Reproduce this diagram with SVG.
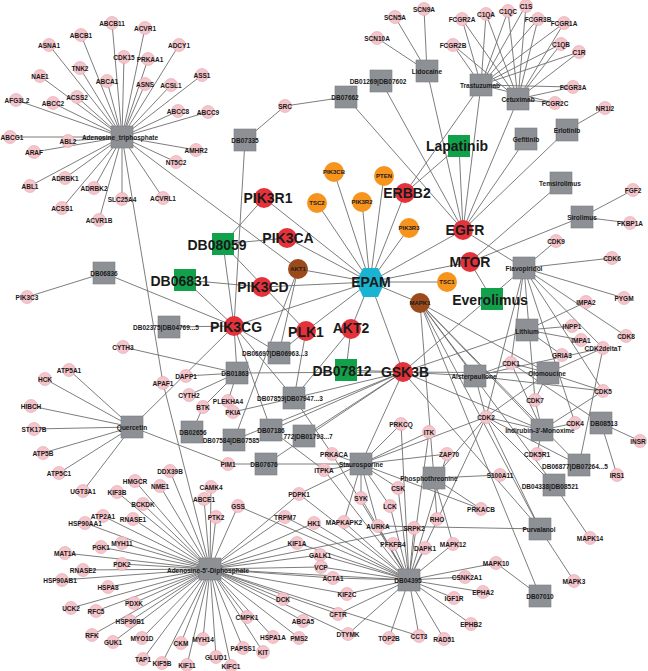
<svg xmlns="http://www.w3.org/2000/svg" width="648" height="671" viewBox="0 0 648 671">
<style>
.e{stroke:#6e6e6e;stroke-width:0.9;fill:none}
.g{fill:#f5c5cb;stroke:#e0a3ab;stroke-width:0.6}
.s{fill:#8d9095;stroke:#7a7d82;stroke-width:0.6}
.gr{fill:#12a14b}
.r{fill:#e4323b}
.o{fill:#f7941d}
.b{fill:#9b4a1b}
.h{fill:#1ab4d3}
text{font-family:"Liberation Sans",Arial,sans-serif;font-weight:bold;text-anchor:middle;dominant-baseline:central;fill:#1a1a1a}
.t{font-size:6.5px}
.m{font-size:6px}
.L{font-size:14px}
</style>
<rect width="648" height="671" fill="#fff"/>
<g id="edges">
<path class="e" d="M122 137L112 23M122 137L145 28M122 137L81 35M122 137L49 45M122 137L179 45M122 137L124 57M122 137L148 59M122 137L80 68M122 137L40 76M122 137L202 75M122 137L107 81M122 137L145 84M122 137L171 85M122 137L16 100M122 137L77 97M122 137L53 103M122 137L178 111M122 137L208 112M122 137L10 137M122 137L68 141M122 137L34 152M122 137L196 150M122 137L176 162M122 137L30 186M122 137L65 178M122 137L94 188M122 137L122 199M122 137L163 198M122 137L62 208M122 137L99 220M122 137L298 269M122 137L163 383M163 383L210 569"/>
<path class="e" d="M245 140L285 106M285 106L346 97M245 140L234 326M346 97L463 230M381 81L463 230M427 71L395 17M427 71L424 9M427 71L377 38M427 71L463 230"/>
<path class="e" d="M481 85L462 19M481 85L486 14M481 85L508 11M481 85L526 5M481 85L538 19M481 85L564 23M481 85L453 45M481 85L561 44M481 85L579 52M481 85L573 87M481 85L555 103M481 85L405 193M481 85L463 230"/>
<path class="e" d="M518 99L462 19M518 99L486 14M518 99L508 11M518 99L526 5M518 99L538 19M518 99L564 23M518 99L453 45M518 99L561 44M518 99L579 52M518 99L573 87M518 99L555 103M518 99L463 230"/>
<path class="e" d="M526 139L463 230M567 130L463 230M567 130L605 108M459 146L463 230M459 146L405 193M561 183L470 262M582 217L470 262M582 217L633 190M582 217L630 223M492 299L470 262M463 230L524 268"/>
<path class="e" d="M370 282L334 172M370 282L384 176M370 282L405 193M370 282L317 203M370 282L362 202M370 282L409 228M370 282L264 198M370 282L287 238M370 282L298 269M370 282L262 287M370 282L420 303M370 282L234 326M370 282L306 331M370 282L351 329M370 282L463 230M370 282L470 262M370 282L447 282M370 282L403 372"/>
<path class="e" d="M223 244L264 198M223 244L287 238M223 244L306 331M223 244L234 326M185 280L262 287M185 280L234 326M104 273L27 297M104 273L234 326M169 327L234 326M234 326L237 373M234 326L279 353M234 326L271 430M234 326L294 398"/>
<path class="e" d="M132 427L69 370M132 427L45 379M132 427L31 406M132 427L34 429M132 427L43 453M132 427L59 473M132 427L83 491M132 427L234 326M132 427L228 464"/>
<path class="e" d="M237 373L123 347M237 373L186 376M237 373L189 395M237 373L203 407M237 373L228 401M192 432L203 407M298 269L279 353M298 269L234 440M306 331L279 353M306 331L294 398M351 329L346 370M351 329L294 398M294 398L233 412M294 398L332 454M271 430L324 470M228 464L361 464"/>
<path class="e" d="M403 372L346 370M403 372L294 398M403 372L271 430M403 372L304 436M403 372L266 464M403 372L234 440M403 372L361 464M403 372L475 376M403 372L527 330M403 372L542 430M403 372L548 373M403 372L524 268M403 372L540 529M403 372L237 373"/>
<path class="e" d="M420 303L475 376M420 303L548 373M420 303L542 430M420 303L540 529M420 303L554 485M420 303L540 596M420 303L579 465M420 303L434 478"/>
<path class="e" d="M361 464L401 424M361 464L429 432M361 464L447 454M361 464L332 454M361 464L324 470M361 464L398 488M361 464L361 498M361 464L390 506M361 464L299 494M361 464L344 522M361 464L378 526M361 464L486 417M361 464L481 509M434 478L500 475M434 478L481 509M434 478L437 519M434 478L453 544M434 478L486 417"/>
<path class="e" d="M524 268L556 241M524 268L612 258M524 268L624 298M524 268L626 336M524 268L603 348M524 268L511 363M524 268L535 400M524 268L486 417M524 268L575 423M524 268L603 391M527 330L586 302M527 330L572 326M527 330L581 340M527 330L562 355"/>
<path class="e" d="M475 376L511 363M475 376L486 417M475 376L603 391M475 376L603 348M548 373L511 363M548 373L486 417M548 373L603 391M548 373L535 400M548 373L603 348M542 430L511 363M542 430L486 417M542 430L603 391M542 430L537 454M542 430L575 423M542 430L535 400M601 423L640 441M601 423L617 475M601 423L511 363M579 465L603 348M579 465L486 417M554 485L486 417M554 485L590 538M540 529L486 417M540 529L574 581M540 529L378 526M540 596L496 563"/>
<path class="e" d="M409 580L414 528M409 580L393 544M409 580L425 548M409 580L453 544M409 580L496 563M409 580L465 577M409 580L483 592M409 580L454 598M409 580L471 624M409 580L444 639M409 580L419 636M409 580L389 638M409 580L348 634M409 580L338 614M409 580L347 594M409 580L333 578M409 580L321 567M409 580L320 555M409 580L297 543M409 580L314 523M409 580L285 517M409 580L238 506M409 580L378 526M409 580L344 522M409 580L390 506M409 580L361 498M409 580L398 488M409 580L299 494M409 580L324 470M409 580L332 454M409 580L447 454M409 580L429 432M409 580L401 424M409 580L486 417"/>
<path class="e" d="M210 569L143 504M210 569L103 516M210 569L133 519M210 569L85 523M210 569L101 547M210 569L122 543M210 569L65 553M210 569L122 564M210 569L83 570M210 569L62 580M210 569L108 587M210 569L71 608M210 569L96 611M210 569L134 603M210 569L130 621M210 569L92 635M210 569L113 642M210 569L142 638M210 569L181 643M210 569L203 639M210 569L143 659M210 569L162 663M210 569L187 665M210 569L216 657M210 569L231 666M210 569L243 648M210 569L263 652M210 569L273 637M210 569L299 638M210 569L247 617M210 569L283 599M210 569L303 621M210 569L216 517M210 569L211 487M210 569L204 499M210 569L170 471M210 569L160 486M210 569L135 481M210 569L117 492M210 569L238 506M210 569L285 517M210 569L314 523M210 569L297 543M210 569L320 555M210 569L321 567M210 569L333 578M210 569L347 594M210 569L338 614M210 569L348 634M210 569L419 636M210 569L409 580M210 569L299 494M210 569L414 528"/>
</g>
<g id="n-Adenosine_triphosphate"><rect class="s" x="111" y="126" width="22" height="22"/><text class="t" x="120" y="137">Adenosine_triphosphate</text></g>
<g id="n-DB07335"><rect class="s" x="234" y="129" width="22" height="22"/><text class="t" x="245" y="140">DB07335</text></g>
<g id="n-DB07662"><rect class="s" x="335" y="86" width="22" height="22"/><text class="t" x="345" y="97">DB07662</text></g>
<g id="n-DB01269-DB07602"><rect class="s" x="370" y="70" width="22" height="22"/><text class="t" x="378" y="81">DB01269|DB07602</text></g>
<g id="n-Lidocaine"><rect class="s" x="416" y="60" width="22" height="22"/><text class="t" x="427" y="71">Lidocaine</text></g>
<g id="n-Trastuzumab"><rect class="s" x="470" y="74" width="22" height="22"/><text class="t" x="480" y="85">Trastuzumab</text></g>
<g id="n-Cetuximab"><rect class="s" x="507" y="88" width="22" height="22"/><text class="t" x="518" y="99">Cetuximab</text></g>
<g id="n-Gefitinib"><rect class="s" x="515" y="128" width="22" height="22"/><text class="t" x="526" y="139">Gefitinib</text></g>
<g id="n-Erlotinib"><rect class="s" x="556" y="119" width="22" height="22"/><text class="t" x="567" y="130">Erlotinib</text></g>
<g id="n-Temsirolimus"><rect class="s" x="550" y="172" width="22" height="22"/><text class="t" x="560" y="183">Temsirolimus</text></g>
<g id="n-Sirolimus"><rect class="s" x="571" y="206" width="22" height="22"/><text class="t" x="582" y="217">Sirolimus</text></g>
<g id="n-Flavopiridol"><rect class="s" x="513" y="257" width="22" height="22"/><text class="t" x="524" y="268">Flavopiridol</text></g>
<g id="n-Lithium"><rect class="s" x="516" y="319" width="22" height="22"/><text class="t" x="527" y="331">Lithium</text></g>
<g id="n-Olomoucine"><rect class="s" x="537" y="362" width="22" height="22"/><text class="t" x="547" y="373">Olomoucine</text></g>
<g id="n-Alsterpaullone"><rect class="s" x="464" y="365" width="22" height="22"/><text class="t" x="474" y="376">Alsterpaullone</text></g>
<g id="n-DB08513"><rect class="s" x="590" y="412" width="22" height="22"/><text class="t" x="604" y="423">DB08513</text></g>
<g id="n-Indirubin"><rect class="s" x="531" y="419" width="22" height="22"/><text class="t" x="540" y="430">Indirubin-3'-Monoxime</text></g>
<g id="n-DB06877"><rect class="s" x="568" y="454" width="22" height="22"/><text class="t" x="575" y="466">DB06877|DB07264...5</text></g>
<g id="n-DB04338"><rect class="s" x="543" y="474" width="22" height="22"/><text class="t" x="550" y="486">DB04338|DB08521</text></g>
<g id="n-Purvalanol"><rect class="s" x="529" y="518" width="22" height="22"/><text class="t" x="539" y="529">Purvalanol</text></g>
<g id="n-DB07010"><rect class="s" x="529" y="585" width="22" height="22"/><text class="t" x="540" y="596">DB07010</text></g>
<g id="n-Phosphothreonine"><rect class="s" x="423" y="467" width="22" height="22"/><text class="t" x="429" y="478">Phosphothreonine</text></g>
<g id="n-DB04395"><rect class="s" x="398" y="569" width="22" height="22"/><text class="t" x="408" y="580">DB04395</text></g>
<g id="n-Adenosine-5-Diphosphate"><rect class="s" x="199" y="558" width="22" height="22"/><text class="t" x="208" y="570">Adenosine-5'-Diphosphate</text></g>
<g id="n-Staurosporine"><rect class="s" x="350" y="453" width="22" height="22"/><text class="t" x="361" y="464">Staurosporine</text></g>
<g id="n-DB07676"><rect class="s" x="255" y="453" width="22" height="22"/><text class="t" x="264" y="464">DB07676</text></g>
<g id="n-DB02656"><rect class="s" x="181" y="421" width="22" height="22"/><text class="t" x="193" y="432">DB02656</text></g>
<g id="n-DB07584-DB07585"><rect class="s" x="223" y="429" width="22" height="22"/><text class="t" x="231" y="440">DB07584|DB07585</text></g>
<g id="n-DB07186"><rect class="s" x="260" y="419" width="22" height="22"/><text class="t" x="271" y="430">DB07186</text></g>
<g id="n-772-DB01793"><rect class="s" x="293" y="425" width="22" height="22"/><text class="t" x="308" y="436">772|DB01793...7</text></g>
<g id="n-DB07859"><rect class="s" x="283" y="387" width="22" height="22"/><text class="t" x="290" y="398">DB07859|DB07947...3</text></g>
<g id="n-DB01863"><rect class="s" x="226" y="362" width="22" height="22"/><text class="t" x="235" y="373">DB01863</text></g>
<g id="n-DB06697"><rect class="s" x="268" y="342" width="22" height="22"/><text class="t" x="275" y="353">DB06697|DB06963...3</text></g>
<g id="n-DB02375"><rect class="s" x="158" y="316" width="22" height="22"/><text class="t" x="166" y="327">DB02375|DB04769...5</text></g>
<g id="n-DB06836"><rect class="s" x="93" y="262" width="22" height="22"/><text class="t" x="104" y="273">DB06836</text></g>
<g id="n-Quercetin"><rect class="s" x="121" y="416" width="22" height="22"/><text class="t" x="132" y="427">Quercetin</text></g>
<g id="n-DB08059"><rect class="gr" x="212" y="233" width="22" height="22"/><text class="L" x="217" y="245">DB08059</text></g>
<g id="n-DB06831"><rect class="gr" x="174" y="269" width="22" height="22"/><text class="L" x="180" y="281">DB06831</text></g>
<g id="n-DB07812"><rect class="gr" x="335" y="359" width="22" height="22"/><text class="L" x="342" y="371">DB07812</text></g>
<g id="n-Lapatinib"><rect class="gr" x="448" y="135" width="22" height="22"/><text class="L" x="457" y="146">Lapatinib</text></g>
<g id="n-Everolimus"><rect class="gr" x="481" y="288" width="22" height="22"/><text class="L" x="490" y="300">Everolimus</text></g>
<g id="n-EPAM"><polygon class="h" points="363,268 378,268 385,282 378,297 363,297 356,282"/><text class="L" x="371" y="282">EPAM</text></g>
<g id="n-PIK3CB"><circle class="o" cx="334" cy="172" r="10"/><text class="m" x="334" y="172">PIK3CB</text></g>
<g id="n-PTEN"><circle class="o" cx="384" cy="176" r="10"/><text class="m" x="384" y="176">PTEN</text></g>
<g id="n-TSC2"><circle class="o" cx="317" cy="203" r="10"/><text class="m" x="317" y="203">TSC2</text></g>
<g id="n-PIK3R2"><circle class="o" cx="362" cy="202" r="10"/><text class="m" x="362" y="202">PIK3R2</text></g>
<g id="n-PIK3R3"><circle class="o" cx="409" cy="228" r="10"/><text class="m" x="409" y="228">PIK3R3</text></g>
<g id="n-TSC1"><circle class="o" cx="447" cy="282" r="10"/><text class="m" x="447" y="282">TSC1</text></g>
<g id="n-AKT1"><circle class="b" cx="298" cy="269" r="10"/><text class="m" x="298" y="269">AKT1</text></g>
<g id="n-MAPK1"><circle class="b" cx="420" cy="303" r="10"/><text class="m" x="420" y="303">MAPK1</text></g>
<g id="n-PIK3R1"><circle class="r" cx="264" cy="198" r="10"/><text class="L" x="268" y="198">PIK3R1</text></g>
<g id="n-PIK3CA"><circle class="r" cx="287" cy="238" r="10"/><text class="L" x="288" y="238">PIK3CA</text></g>
<g id="n-PIK3CD"><circle class="r" cx="262" cy="287" r="10"/><text class="L" x="263" y="287">PIK3CD</text></g>
<g id="n-PIK3CG"><circle class="r" cx="234" cy="326" r="10"/><text class="L" x="236" y="327">PIK3CG</text></g>
<g id="n-PLK1"><circle class="r" cx="306" cy="331" r="10"/><text class="L" x="306" y="332">PLK1</text></g>
<g id="n-AKT2"><circle class="r" cx="351" cy="329" r="10"/><text class="L" x="351" y="328">AKT2</text></g>
<g id="n-ERBB2"><circle class="r" cx="405" cy="193" r="10"/><text class="L" x="407" y="193">ERBB2</text></g>
<g id="n-EGFR"><circle class="r" cx="463" cy="230" r="10"/><text class="L" x="465" y="230">EGFR</text></g>
<g id="n-MTOR"><circle class="r" cx="470" cy="262" r="10"/><text class="L" x="470" y="262">MTOR</text></g>
<g id="n-GSK3B"><circle class="r" cx="403" cy="372" r="10"/><text class="L" x="405" y="372">GSK3B</text></g>
<g id="n-ABCB11"><circle class="g" cx="112" cy="23" r="6.5"/><text class="t" x="112" y="23">ABCB11</text></g>
<g id="n-ACVR1"><circle class="g" cx="145" cy="28" r="6.5"/><text class="t" x="145" y="28">ACVR1</text></g>
<g id="n-ABCB1"><circle class="g" cx="81" cy="35" r="6.5"/><text class="t" x="81" y="35">ABCB1</text></g>
<g id="n-ASNA1"><circle class="g" cx="49" cy="45" r="6.5"/><text class="t" x="49" y="45">ASNA1</text></g>
<g id="n-ADCY1"><circle class="g" cx="179" cy="45" r="6.5"/><text class="t" x="179" y="45">ADCY1</text></g>
<g id="n-CDK15"><circle class="g" cx="124" cy="57" r="6.5"/><text class="t" x="124" y="57">CDK15</text></g>
<g id="n-PRKAA1"><circle class="g" cx="148" cy="59" r="6.5"/><text class="t" x="150" y="59">PRKAA1</text></g>
<g id="n-TNK2"><circle class="g" cx="80" cy="68" r="6.5"/><text class="t" x="80" y="68">TNK2</text></g>
<g id="n-NAE1"><circle class="g" cx="40" cy="76" r="6.5"/><text class="t" x="40" y="76">NAE1</text></g>
<g id="n-ASS1"><circle class="g" cx="202" cy="75" r="6.5"/><text class="t" x="202" y="75">ASS1</text></g>
<g id="n-ABCA1"><circle class="g" cx="107" cy="81" r="6.5"/><text class="t" x="107" y="81">ABCA1</text></g>
<g id="n-ASNS"><circle class="g" cx="145" cy="84" r="6.5"/><text class="t" x="145" y="84">ASNS</text></g>
<g id="n-ACSL1"><circle class="g" cx="171" cy="85" r="6.5"/><text class="t" x="171" y="85">ACSL1</text></g>
<g id="n-AFG3L2"><circle class="g" cx="16" cy="100" r="6.5"/><text class="t" x="17" y="100">AFG3L2</text></g>
<g id="n-ACSS2"><circle class="g" cx="77" cy="97" r="6.5"/><text class="t" x="77" y="97">ACSS2</text></g>
<g id="n-ABCC2"><circle class="g" cx="53" cy="103" r="6.5"/><text class="t" x="53" y="103">ABCC2</text></g>
<g id="n-ABCC8"><circle class="g" cx="178" cy="111" r="6.5"/><text class="t" x="178" y="111">ABCC8</text></g>
<g id="n-ABCC9"><circle class="g" cx="208" cy="112" r="6.5"/><text class="t" x="208" y="112">ABCC9</text></g>
<g id="n-ABCG1"><circle class="g" cx="10" cy="137" r="6.5"/><text class="t" x="12" y="137">ABCG1</text></g>
<g id="n-ABL2"><circle class="g" cx="68" cy="141" r="6.5"/><text class="t" x="68" y="141">ABL2</text></g>
<g id="n-ARAF"><circle class="g" cx="34" cy="152" r="6.5"/><text class="t" x="34" y="152">ARAF</text></g>
<g id="n-AMHR2"><circle class="g" cx="196" cy="150" r="6.5"/><text class="t" x="196" y="150">AMHR2</text></g>
<g id="n-NT5C2"><circle class="g" cx="176" cy="162" r="6.5"/><text class="t" x="176" y="162">NT5C2</text></g>
<g id="n-ABL1"><circle class="g" cx="30" cy="186" r="6.5"/><text class="t" x="30" y="186">ABL1</text></g>
<g id="n-ADRBK1"><circle class="g" cx="65" cy="178" r="6.5"/><text class="t" x="65" y="178">ADRBK1</text></g>
<g id="n-ADRBK2"><circle class="g" cx="94" cy="188" r="6.5"/><text class="t" x="94" y="188">ADRBK2</text></g>
<g id="n-SLC25A4"><circle class="g" cx="122" cy="199" r="6.5"/><text class="t" x="122" y="199">SLC25A4</text></g>
<g id="n-ACVRL1"><circle class="g" cx="163" cy="198" r="6.5"/><text class="t" x="163" y="198">ACVRL1</text></g>
<g id="n-ACSS1"><circle class="g" cx="62" cy="208" r="6.5"/><text class="t" x="62" y="208">ACSS1</text></g>
<g id="n-ACVR1B"><circle class="g" cx="99" cy="220" r="6.5"/><text class="t" x="99" y="220">ACVR1B</text></g>
<g id="n-SRC"><circle class="g" cx="285" cy="106" r="6.5"/><text class="t" x="285" y="106">SRC</text></g>
<g id="n-SCN5A"><circle class="g" cx="395" cy="17" r="6.5"/><text class="t" x="395" y="17">SCN5A</text></g>
<g id="n-SCN9A"><circle class="g" cx="424" cy="9" r="6.5"/><text class="t" x="424" y="9">SCN9A</text></g>
<g id="n-SCN10A"><circle class="g" cx="377" cy="38" r="6.5"/><text class="t" x="377" y="38">SCN10A</text></g>
<g id="n-FCGR2A"><circle class="g" cx="462" cy="19" r="6.5"/><text class="t" x="462" y="19">FCGR2A</text></g>
<g id="n-C1QA"><circle class="g" cx="486" cy="14" r="6.5"/><text class="t" x="486" y="14">C1QA</text></g>
<g id="n-C1QC"><circle class="g" cx="508" cy="11" r="6.5"/><text class="t" x="508" y="11">C1QC</text></g>
<g id="n-C1S"><circle class="g" cx="526" cy="6" r="6.5"/><text class="t" x="526" y="6">C1S</text></g>
<g id="n-FCGR3B"><circle class="g" cx="538" cy="19" r="6.5"/><text class="t" x="538" y="19">FCGR3B</text></g>
<g id="n-FCGR1A"><circle class="g" cx="564" cy="23" r="6.5"/><text class="t" x="564" y="23">FCGR1A</text></g>
<g id="n-FCGR2B"><circle class="g" cx="453" cy="45" r="6.5"/><text class="t" x="453" y="45">FCGR2B</text></g>
<g id="n-C1QB"><circle class="g" cx="561" cy="44" r="6.5"/><text class="t" x="561" y="44">C1QB</text></g>
<g id="n-C1R"><circle class="g" cx="579" cy="52" r="6.5"/><text class="t" x="579" y="52">C1R</text></g>
<g id="n-FCGR3A"><circle class="g" cx="573" cy="87" r="6.5"/><text class="t" x="573" y="87">FCGR3A</text></g>
<g id="n-FCGR2C"><circle class="g" cx="555" cy="103" r="6.5"/><text class="t" x="555" y="103">FCGR2C</text></g>
<g id="n-NR1I2"><circle class="g" cx="605" cy="108" r="6.5"/><text class="t" x="605" y="108">NR1I2</text></g>
<g id="n-FGF2"><circle class="g" cx="633" cy="190" r="6.5"/><text class="t" x="633" y="190">FGF2</text></g>
<g id="n-FKBP1A"><circle class="g" cx="630" cy="223" r="6.5"/><text class="t" x="630" y="223">FKBP1A</text></g>
<g id="n-CDK9"><circle class="g" cx="556" cy="241" r="6.5"/><text class="t" x="556" y="241">CDK9</text></g>
<g id="n-CDK6"><circle class="g" cx="612" cy="258" r="6.5"/><text class="t" x="612" y="258">CDK6</text></g>
<g id="n-PYGM"><circle class="g" cx="624" cy="298" r="6.5"/><text class="t" x="624" y="298">PYGM</text></g>
<g id="n-IMPA2"><circle class="g" cx="586" cy="302" r="6.5"/><text class="t" x="586" y="302">IMPA2</text></g>
<g id="n-INPP1"><circle class="g" cx="572" cy="326" r="6.5"/><text class="t" x="572" y="326">INPP1</text></g>
<g id="n-CDK8"><circle class="g" cx="626" cy="336" r="6.5"/><text class="t" x="626" y="336">CDK8</text></g>
<g id="n-IMPA1"><circle class="g" cx="581" cy="340" r="6.5"/><text class="t" x="581" y="340">IMPA1</text></g>
<g id="n-CDK2deltaT"><circle class="g" cx="603" cy="348" r="6.5"/><text class="t" x="603" y="348">CDK2deltaT</text></g>
<g id="n-GRIA3"><circle class="g" cx="562" cy="355" r="6.5"/><text class="t" x="562" y="355">GRIA3</text></g>
<g id="n-CDK1"><circle class="g" cx="511" cy="363" r="6.5"/><text class="t" x="511" y="363">CDK1</text></g>
<g id="n-CDK5"><circle class="g" cx="603" cy="391" r="6.5"/><text class="t" x="603" y="391">CDK5</text></g>
<g id="n-CDK7"><circle class="g" cx="535" cy="400" r="6.5"/><text class="t" x="535" y="400">CDK7</text></g>
<g id="n-CDK2"><circle class="g" cx="486" cy="417" r="6.5"/><text class="t" x="486" y="417">CDK2</text></g>
<g id="n-CDK4"><circle class="g" cx="575" cy="423" r="6.5"/><text class="t" x="575" y="423">CDK4</text></g>
<g id="n-INSR"><circle class="g" cx="640" cy="441" r="6.5"/><text class="t" x="638" y="441">INSR</text></g>
<g id="n-CDK5R1"><circle class="g" cx="537" cy="454" r="6.5"/><text class="t" x="537" y="454">CDK5R1</text></g>
<g id="n-ZAP70"><circle class="g" cx="447" cy="454" r="6.5"/><text class="t" x="449" y="454">ZAP70</text></g>
<g id="n-IRS1"><circle class="g" cx="617" cy="475" r="6.5"/><text class="t" x="617" y="475">IRS1</text></g>
<g id="n-S100A11"><circle class="g" cx="500" cy="475" r="6.5"/><text class="t" x="500" y="475">S100A11</text></g>
<g id="n-PIK3C3"><circle class="g" cx="27" cy="297" r="6.5"/><text class="t" x="27" y="297">PIK3C3</text></g>
<g id="n-CYTH3"><circle class="g" cx="123" cy="347" r="6.5"/><text class="t" x="123" y="347">CYTH3</text></g>
<g id="n-ATP5A1"><circle class="g" cx="69" cy="370" r="6.5"/><text class="t" x="69" y="370">ATP5A1</text></g>
<g id="n-HCK"><circle class="g" cx="45" cy="379" r="6.5"/><text class="t" x="45" y="379">HCK</text></g>
<g id="n-DAPP1"><circle class="g" cx="186" cy="376" r="6.5"/><text class="t" x="186" y="376">DAPP1</text></g>
<g id="n-APAF1"><circle class="g" cx="163" cy="383" r="6.5"/><text class="t" x="163" y="383">APAF1</text></g>
<g id="n-CYTH2"><circle class="g" cx="189" cy="395" r="6.5"/><text class="t" x="189" y="395">CYTH2</text></g>
<g id="n-BTK"><circle class="g" cx="203" cy="407" r="6.5"/><text class="t" x="203" y="407">BTK</text></g>
<g id="n-HIBCH"><circle class="g" cx="31" cy="406" r="6.5"/><text class="t" x="31" y="406">HIBCH</text></g>
<g id="n-STK17B"><circle class="g" cx="34" cy="429" r="6.5"/><text class="t" x="34" y="429">STK17B</text></g>
<g id="n-ATP5B"><circle class="g" cx="43" cy="453" r="6.5"/><text class="t" x="43" y="453">ATP5B</text></g>
<g id="n-ATP5C1"><circle class="g" cx="59" cy="473" r="6.5"/><text class="t" x="59" y="473">ATP5C1</text></g>
<g id="n-DDX39B"><circle class="g" cx="170" cy="471" r="6.5"/><text class="t" x="170" y="471">DDX39B</text></g>
<g id="n-HMGCR"><circle class="g" cx="135" cy="481" r="6.5"/><text class="t" x="135" y="481">HMGCR</text></g>
<g id="n-NME1"><circle class="g" cx="160" cy="486" r="6.5"/><text class="t" x="160" y="486">NME1</text></g>
<g id="n-UGT3A1"><circle class="g" cx="83" cy="491" r="6.5"/><text class="t" x="83" y="491">UGT3A1</text></g>
<g id="n-KIF3B"><circle class="g" cx="117" cy="492" r="6.5"/><text class="t" x="117" y="492">KIF3B</text></g>
<g id="n-ABCE1"><circle class="g" cx="204" cy="499" r="6.5"/><text class="t" x="204" y="499">ABCE1</text></g>
<g id="n-CAMK4"><circle class="g" cx="211" cy="487" r="6.5"/><text class="t" x="211" y="487">CAMK4</text></g>
<g id="n-PLEKHA4"><circle class="g" cx="228" cy="401" r="6.5"/><text class="t" x="228" y="401">PLEKHA4</text></g>
<g id="n-PKIA"><circle class="g" cx="233" cy="412" r="6.5"/><text class="t" x="233" y="412">PKIA</text></g>
<g id="n-PRKCQ"><circle class="g" cx="401" cy="424" r="6.5"/><text class="t" x="401" y="424">PRKCQ</text></g>
<g id="n-ITK"><circle class="g" cx="429" cy="432" r="6.5"/><text class="t" x="429" y="432">ITK</text></g>
<g id="n-PRKACA"><circle class="g" cx="332" cy="454" r="6.5"/><text class="t" x="334" y="454">PRKACA</text></g>
<g id="n-PIM1"><circle class="g" cx="228" cy="464" r="6.5"/><text class="t" x="228" y="464">PIM1</text></g>
<g id="n-ITPKA"><circle class="g" cx="324" cy="470" r="6.5"/><text class="t" x="324" y="470">ITPKA</text></g>
<g id="n-CSK"><circle class="g" cx="398" cy="488" r="6.5"/><text class="t" x="398" y="488">CSK</text></g>
<g id="n-PDPK1"><circle class="g" cx="299" cy="494" r="6.5"/><text class="t" x="299" y="494">PDPK1</text></g>
<g id="n-SYK"><circle class="g" cx="361" cy="498" r="6.5"/><text class="t" x="361" y="498">SYK</text></g>
<g id="n-BCKDK"><circle class="g" cx="143" cy="504" r="6.5"/><text class="t" x="143" y="504">BCKDK</text></g>
<g id="n-ATP2A1"><circle class="g" cx="103" cy="516" r="6.5"/><text class="t" x="103" y="516">ATP2A1</text></g>
<g id="n-RNASE1"><circle class="g" cx="133" cy="519" r="6.5"/><text class="t" x="133" y="519">RNASE1</text></g>
<g id="n-HSP90AA1"><circle class="g" cx="85" cy="523" r="6.5"/><text class="t" x="85" y="523">HSP90AA1</text></g>
<g id="n-PGK1"><circle class="g" cx="101" cy="547" r="6.5"/><text class="t" x="101" y="547">PGK1</text></g>
<g id="n-MYH11"><circle class="g" cx="122" cy="543" r="6.5"/><text class="t" x="122" y="543">MYH11</text></g>
<g id="n-MAT1A"><circle class="g" cx="65" cy="553" r="6.5"/><text class="t" x="65" y="553">MAT1A</text></g>
<g id="n-PDK2"><circle class="g" cx="122" cy="564" r="6.5"/><text class="t" x="122" y="564">PDK2</text></g>
<g id="n-RNASE2"><circle class="g" cx="83" cy="570" r="6.5"/><text class="t" x="83" y="570">RNASE2</text></g>
<g id="n-HSP90AB1"><circle class="g" cx="62" cy="580" r="6.5"/><text class="t" x="60" y="580">HSP90AB1</text></g>
<g id="n-HSPA8"><circle class="g" cx="108" cy="587" r="6.5"/><text class="t" x="108" y="587">HSPA8</text></g>
<g id="n-UCK2"><circle class="g" cx="71" cy="608" r="6.5"/><text class="t" x="71" y="608">UCK2</text></g>
<g id="n-RFC5"><circle class="g" cx="96" cy="611" r="6.5"/><text class="t" x="96" y="611">RFC5</text></g>
<g id="n-PDXK"><circle class="g" cx="134" cy="603" r="6.5"/><text class="t" x="134" y="603">PDXK</text></g>
<g id="n-HSP90B1"><circle class="g" cx="130" cy="621" r="6.5"/><text class="t" x="130" y="621">HSP90B1</text></g>
<g id="n-RFK"><circle class="g" cx="92" cy="635" r="6.5"/><text class="t" x="92" y="635">RFK</text></g>
<g id="n-GUK1"><circle class="g" cx="113" cy="642" r="6.5"/><text class="t" x="113" y="642">GUK1</text></g>
<g id="n-MYO1D"><circle class="g" cx="142" cy="638" r="6.5"/><text class="t" x="142" y="638">MYO1D</text></g>
<g id="n-CKM"><circle class="g" cx="181" cy="643" r="6.5"/><text class="t" x="181" y="643">CKM</text></g>
<g id="n-MYH14"><circle class="g" cx="203" cy="639" r="6.5"/><text class="t" x="203" y="639">MYH14</text></g>
<g id="n-TAP1"><circle class="g" cx="143" cy="659" r="6.5"/><text class="t" x="143" y="659">TAP1</text></g>
<g id="n-KIF5B"><circle class="g" cx="162" cy="663" r="6.5"/><text class="t" x="162" y="663">KIF5B</text></g>
<g id="n-KIF11"><circle class="g" cx="187" cy="665" r="6.5"/><text class="t" x="187" y="665">KIF11</text></g>
<g id="n-GLUD1"><circle class="g" cx="216" cy="657" r="6.5"/><text class="t" x="216" y="657">GLUD1</text></g>
<g id="n-PTK2"><circle class="g" cx="216" cy="517" r="6.5"/><text class="t" x="216" y="517">PTK2</text></g>
<g id="n-GSS"><circle class="g" cx="238" cy="506" r="6.5"/><text class="t" x="238" y="506">GSS</text></g>
<g id="n-LCK"><circle class="g" cx="390" cy="506" r="6.5"/><text class="t" x="390" y="506">LCK</text></g>
<g id="n-TRPM7"><circle class="g" cx="285" cy="517" r="6.5"/><text class="t" x="285" y="517">TRPM7</text></g>
<g id="n-HK1"><circle class="g" cx="314" cy="523" r="6.5"/><text class="t" x="314" y="523">HK1</text></g>
<g id="n-MAPKAPK2"><circle class="g" cx="344" cy="522" r="6.5"/><text class="t" x="344" y="522">MAPKAPK2</text></g>
<g id="n-AURKA"><circle class="g" cx="378" cy="526" r="6.5"/><text class="t" x="378" y="526">AURKA</text></g>
<g id="n-SRPK2"><circle class="g" cx="414" cy="528" r="6.5"/><text class="t" x="414" y="528">SRPK2</text></g>
<g id="n-KIF1A"><circle class="g" cx="297" cy="543" r="6.5"/><text class="t" x="297" y="543">KIF1A</text></g>
<g id="n-PFKFB4"><circle class="g" cx="393" cy="544" r="6.5"/><text class="t" x="393" y="544">PFKFB4</text></g>
<g id="n-DAPK1"><circle class="g" cx="425" cy="548" r="6.5"/><text class="t" x="425" y="548">DAPK1</text></g>
<g id="n-GALK1"><circle class="g" cx="320" cy="555" r="6.5"/><text class="t" x="320" y="555">GALK1</text></g>
<g id="n-VCP"><circle class="g" cx="321" cy="567" r="6.5"/><text class="t" x="321" y="567">VCP</text></g>
<g id="n-ACTA1"><circle class="g" cx="333" cy="578" r="6.5"/><text class="t" x="333" y="578">ACTA1</text></g>
<g id="n-KIF2C"><circle class="g" cx="347" cy="594" r="6.5"/><text class="t" x="347" y="594">KIF2C</text></g>
<g id="n-DCK"><circle class="g" cx="283" cy="599" r="6.5"/><text class="t" x="283" y="599">DCK</text></g>
<g id="n-CMPK1"><circle class="g" cx="247" cy="617" r="6.5"/><text class="t" x="247" y="617">CMPK1</text></g>
<g id="n-CFTR"><circle class="g" cx="338" cy="614" r="6.5"/><text class="t" x="338" y="614">CFTR</text></g>
<g id="n-ABCA5"><circle class="g" cx="303" cy="621" r="6.5"/><text class="t" x="303" y="621">ABCA5</text></g>
<g id="n-DTYMK"><circle class="g" cx="348" cy="634" r="6.5"/><text class="t" x="348" y="634">DTYMK</text></g>
<g id="n-HSPA1A"><circle class="g" cx="273" cy="637" r="6.5"/><text class="t" x="273" y="637">HSPA1A</text></g>
<g id="n-PMS2"><circle class="g" cx="299" cy="638" r="6.5"/><text class="t" x="299" y="638">PMS2</text></g>
<g id="n-TOP2B"><circle class="g" cx="389" cy="638" r="6.5"/><text class="t" x="389" y="638">TOP2B</text></g>
<g id="n-CCT3"><circle class="g" cx="419" cy="636" r="6.5"/><text class="t" x="419" y="636">CCT3</text></g>
<g id="n-PAPSS1"><circle class="g" cx="243" cy="648" r="6.5"/><text class="t" x="243" y="648">PAPSS1</text></g>
<g id="n-KIT"><circle class="g" cx="263" cy="652" r="6.5"/><text class="t" x="263" y="652">KIT</text></g>
<g id="n-KIFC1"><circle class="g" cx="231" cy="666" r="6.5"/><text class="t" x="231" y="666">KIFC1</text></g>
<g id="n-PRKACB"><circle class="g" cx="481" cy="509" r="6.5"/><text class="t" x="481" y="509">PRKACB</text></g>
<g id="n-RHO"><circle class="g" cx="437" cy="519" r="6.5"/><text class="t" x="437" y="519">RHO</text></g>
<g id="n-MAPK14"><circle class="g" cx="590" cy="538" r="6.5"/><text class="t" x="590" y="538">MAPK14</text></g>
<g id="n-MAPK12"><circle class="g" cx="453" cy="544" r="6.5"/><text class="t" x="453" y="544">MAPK12</text></g>
<g id="n-MAPK10"><circle class="g" cx="496" cy="563" r="6.5"/><text class="t" x="496" y="563">MAPK10</text></g>
<g id="n-CSNK2A1"><circle class="g" cx="465" cy="577" r="6.5"/><text class="t" x="467" y="577">CSNK2A1</text></g>
<g id="n-EPHA2"><circle class="g" cx="483" cy="592" r="6.5"/><text class="t" x="483" y="592">EPHA2</text></g>
<g id="n-IGF1R"><circle class="g" cx="454" cy="598" r="6.5"/><text class="t" x="454" y="598">IGF1R</text></g>
<g id="n-MAPK3"><circle class="g" cx="574" cy="581" r="6.5"/><text class="t" x="574" y="581">MAPK3</text></g>
<g id="n-EPHB2"><circle class="g" cx="471" cy="624" r="6.5"/><text class="t" x="471" y="624">EPHB2</text></g>
<g id="n-RAD51"><circle class="g" cx="444" cy="639" r="6.5"/><text class="t" x="444" y="639">RAD51</text></g>
</svg>
